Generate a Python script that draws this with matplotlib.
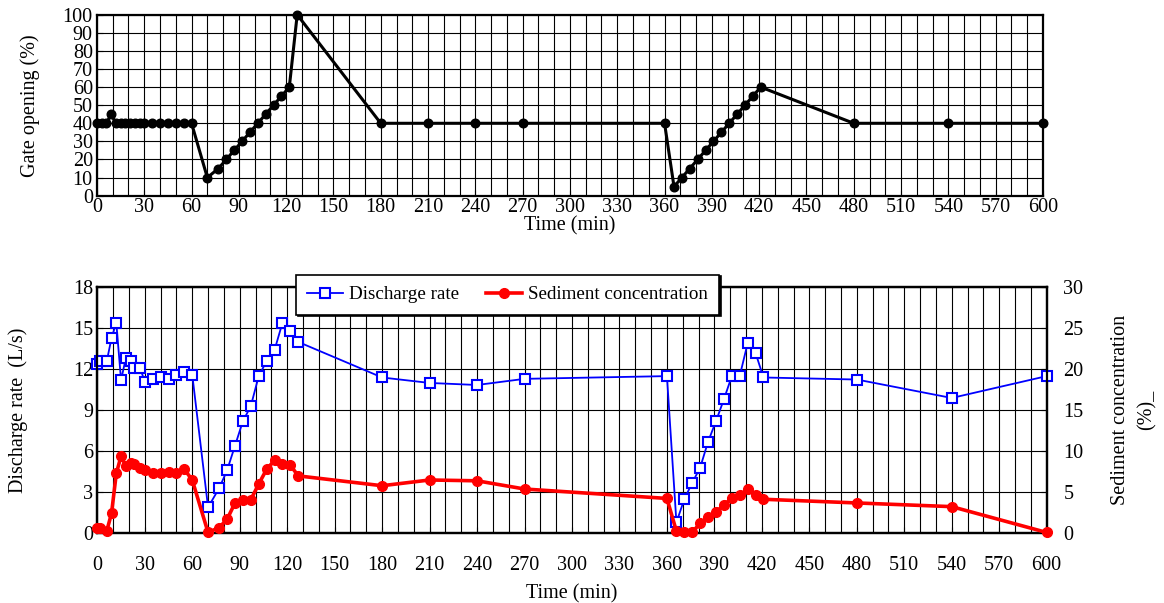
import matplotlib
matplotlib.use("Agg")
import matplotlib.pyplot as plt
from matplotlib.ticker import MultipleLocator

plt.rcParams['font.family'] = ['Liberation Serif', 'DejaVu Serif']
plt.rcParams['mathtext.fontset'] = 'stix'

# ---- data ----
gate_time = [0, 3, 6, 9, 12, 15, 18, 21, 24, 27, 30, 35, 40, 45, 50, 55, 60,
             70, 77, 82, 87, 92, 97, 102, 107, 112, 117, 122, 127,
             180, 210, 240, 270, 360,
             366, 371, 376, 381, 386, 391, 396, 401, 406, 411, 416, 421,
             480, 540, 600]
gate_open = [40, 40, 40, 45, 40, 40, 40, 40, 40, 40, 40, 40, 40, 40, 40, 40, 40,
             10, 15, 20, 25, 30, 35, 40, 45, 50, 55, 60, 100,
             40, 40, 40, 40, 40,
             5, 10, 15, 20, 25, 30, 35, 40, 45, 50, 55, 60,
             40, 40, 40]

time = [0, 2, 6, 9, 12, 15, 18, 21, 23, 27, 30, 35, 40, 45, 50, 55, 60,
        70, 77, 82, 87, 92, 97, 102, 107, 112, 117, 122, 127,
        180, 210, 240, 270, 360,
        366, 371, 376, 381, 386, 391, 396, 401, 406, 411, 416, 421,
        480, 540, 600]
discharge = [12.4, 12.6, 12.6, 14.3, 15.4, 11.2, 12.8, 12.6, 12.1, 12.1, 11.1, 11.3, 11.4, 11.3, 11.6, 11.8, 11.6,
             1.9, 3.3, 4.6, 6.4, 8.2, 9.3, 11.5, 12.6, 13.4, 15.4, 14.8, 14.0,
             11.4, 11.0, 10.85, 11.3, 11.5,
             0.8, 2.5, 3.7, 4.8, 6.7, 8.2, 9.8, 11.5, 11.5, 13.9, 13.2, 11.4,
             11.25, 9.9, 11.5]
sediment = [0.7, 0.6, 0.3, 2.45, 7.3, 9.4, 8.2, 8.6, 8.4, 8.0, 7.7, 7.4, 7.3, 7.5, 7.4, 7.8, 6.5,
            0.1, 0.7, 1.7, 3.7, 4.0, 4.1, 6.0, 7.8, 8.9, 8.4, 8.3, 7.0,
            5.8, 6.5, 6.4, 5.4, 4.25,
            0.25, 0.2, 0.15, 1.2, 1.95, 2.6, 3.45, 4.3, 4.65, 5.35, 4.65, 4.15,
            3.7, 3.25, 0.1]

xticks = list(range(0, 601, 30))

fig = plt.figure(figsize=(11.64, 6.03), dpi=100)

FS = 14.5
GRID = dict(color='black', linewidth=0.8)

# ---- top panel ----
ax1 = fig.add_axes([0.0833, 0.6755, 0.8127, 0.3001])
ax1.plot(gate_time, gate_open, color='black', lw=2.2, marker='o', ms=6.2,
         clip_on=False, zorder=3)
ax1.set_xlim(0, 600)
ax1.set_ylim(0, 100)
ax1.set_xticks(xticks)
ax1.xaxis.set_minor_locator(MultipleLocator(10))
ax1.yaxis.set_major_locator(MultipleLocator(10))
ax1.grid(True, which='both', axis='x', **GRID)
ax1.grid(True, which='major', axis='y', **GRID)
ax1.set_axisbelow(True)
ax1.tick_params(axis='both', which='major', direction='in', length=4, labelsize=FS, pad=2)
ax1.tick_params(axis='x', which='minor', length=0)
ax1.tick_params(axis='y', pad=3)
ax1.set_xlabel('Time (min)', fontsize=FS, labelpad=-1)
ax1.set_ylabel('Gate opening (%)', fontsize=FS, labelpad=16)
for s in ax1.spines.values():
    s.set_linewidth(1.6)

# ---- bottom panel ----
ax2 = fig.add_axes([0.0836, 0.1156, 0.8156, 0.4080])
l1, = ax2.plot(time, discharge, color='#0000ff', lw=1.3, marker='s', ms=7.5,
               mfc='white', mec='#0000ff', mew=1.5, clip_on=False, zorder=3,
               label='Discharge rate')
ax2.set_xlim(0, 600)
ax2.set_ylim(0, 18)
ax2.set_xticks(xticks)
ax2.xaxis.set_minor_locator(MultipleLocator(10))
ax2.yaxis.set_major_locator(MultipleLocator(3))
ax2.grid(True, which='both', axis='x', **GRID)
ax2.grid(True, which='major', axis='y', **GRID)
ax2.set_axisbelow(True)
ax2.tick_params(axis='both', which='major', direction='in', length=4, labelsize=FS, pad=3)
ax2.tick_params(axis='x', which='minor', length=0)
ax2.tick_params(axis='x', pad=16)
ax2.set_xlabel('Time (min)', fontsize=FS, labelpad=7)
ax2.set_ylabel('Discharge rate  (L/s)', fontsize=FS, labelpad=32)
for s in ax2.spines.values():
    s.set_linewidth(1.6)

ax3 = ax2.twinx()
l2, = ax3.plot(time, sediment, color='#ff0000', lw=2.6, marker='o', ms=7,
               clip_on=False, zorder=4, label='Sediment concentration')
ax3.set_ylim(0, 30)
ax3.yaxis.set_major_locator(MultipleLocator(5))
ax3.tick_params(axis='y', direction='in', length=4, labelsize=FS, pad=12)
ax3.set_ylabel('Sediment concentration\n(%)_', fontsize=FS, labelpad=20,
               linespacing=1.5)
for s in ax3.spines.values():
    s.set_linewidth(1.6)

leg = ax3.legend([l1, l2], ['Discharge rate', 'Sediment concentration'],
                 loc='center', bbox_to_anchor=(0.432, 0.97), ncol=2,
                 prop={'size': 13.7}, frameon=True, fancybox=False, framealpha=1,
                 edgecolor='black', handlelength=1.9, columnspacing=1.4,
                 borderpad=0.6, handletextpad=0.3,
                 shadow={'color': 'black', 'alpha': 1.0, 'ox': 1.2, 'oy': -1.2})
leg.get_frame().set_linewidth(1.2)
leg.set_zorder(10)

fig.savefig('out.png', dpi=100)
